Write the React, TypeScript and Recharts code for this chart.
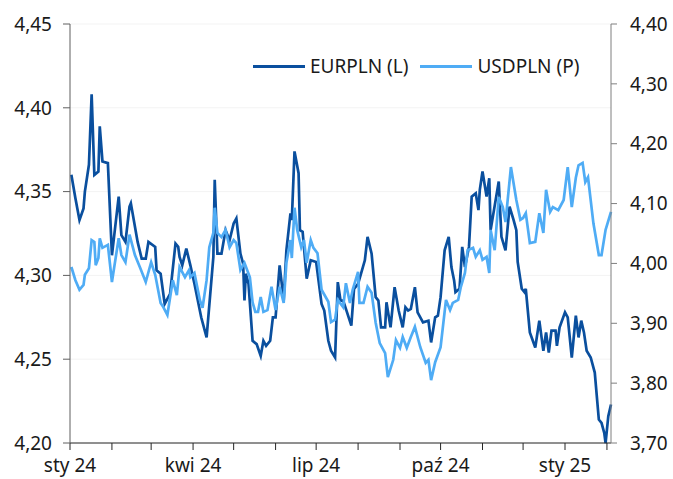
import React from 'react';
import { LineChart, Line, XAxis, YAxis, CartesianGrid } from 'recharts';

// days counted from 1 Jan 2024
const monthStarts = [0, 31, 60, 91, 121, 152, 182, 213, 244, 274, 305, 335, 366, 397];
const monthLabels = ['sty 24', '', '', 'kwi 24', '', '', 'lip 24', '', '', 'paź 24', '', '', 'sty 25', ''];

const leftTicks = [4.2, 4.25, 4.3, 4.35, 4.4, 4.45];
const rightTicks = [3.7, 3.8, 3.9, 4.0, 4.1, 4.2, 4.3, 4.4];

const eurDays = [
  1, 4, 7, 10, 11, 14, 16, 18, 21, 22, 24, 28, 31, 36, 38, 41, 44, 45, 50, 53, 56, 58, 63, 64, 67, 70,
  74, 78, 80, 81, 83, 86, 89, 92, 97, 100, 101, 106, 107, 109, 112, 115, 118, 121, 123, 126, 128, 129,
  130, 132, 135, 138, 141, 143, 145, 148, 150, 152, 155, 158, 160, 163, 164, 166, 169, 170, 172, 175,
  178, 182, 186, 188, 191, 193, 196, 198, 200, 202, 204, 208, 210, 213, 218, 220, 223, 226, 228, 230,
  233, 234, 237, 240, 243, 246, 248, 250, 252, 255, 257, 261, 265, 267, 270, 272, 274, 277, 280, 282,
  284, 285, 288, 290, 292, 295, 297, 300, 302, 303, 305, 308, 310, 311, 317, 319, 322, 325, 328, 330,
  331, 334, 336, 337, 340, 344, 347, 350, 352, 354, 356, 359, 360, 362, 366, 368, 371, 374, 376, 378,
  380, 382, 385, 388, 391, 393, 395, 396, 398, 400,
];
const eurValues = [
  4.360, 4.346, 4.333, 4.340, 4.350, 4.366, 4.408, 4.360, 4.362, 4.389, 4.368, 4.367, 4.312, 4.347,
  4.324, 4.320, 4.341, 4.343, 4.320, 4.310, 4.310, 4.320, 4.317, 4.303, 4.301, 4.283, 4.289, 4.319,
  4.317, 4.311, 4.306, 4.316, 4.306, 4.295, 4.275, 4.266, 4.263, 4.311, 4.357, 4.313, 4.313, 4.327,
  4.321, 4.331, 4.334, 4.313, 4.307, 4.285, 4.301, 4.295, 4.261, 4.259, 4.252, 4.261, 4.258, 4.261,
  4.275, 4.275, 4.306, 4.285, 4.315, 4.337, 4.333, 4.374, 4.361, 4.327, 4.326, 4.298, 4.309, 4.308,
  4.283, 4.279, 4.261, 4.255, 4.251, 4.296, 4.285, 4.285, 4.280, 4.270, 4.292, 4.295, 4.309, 4.323,
  4.313, 4.287, 4.285, 4.269, 4.269, 4.284, 4.269, 4.293, 4.279, 4.269, 4.281, 4.279, 4.280, 4.293,
  4.278, 4.272, 4.273, 4.260, 4.275, 4.276, 4.287, 4.315, 4.323, 4.305, 4.297, 4.290, 4.292, 4.317,
  4.305, 4.317, 4.347, 4.349, 4.339, 4.351, 4.362, 4.347, 4.358, 4.327, 4.356, 4.323, 4.315, 4.341,
  4.333, 4.327, 4.308, 4.292, 4.290, 4.292, 4.266, 4.257, 4.273, 4.255, 4.266, 4.254, 4.267, 4.267,
  4.258, 4.269, 4.278, 4.275, 4.251, 4.276, 4.263, 4.273, 4.266, 4.255, 4.251, 4.242, 4.214, 4.212,
  4.206, 4.200, 4.216, 4.223,
];

const usdDays = [
  1, 4, 7, 10, 11, 14, 16, 18, 19, 21, 22, 24, 28, 31, 36, 38, 41, 44, 48, 52, 56, 60, 63, 67, 69, 72,
  76, 79, 81, 85, 88, 89, 92, 96, 98, 101, 103, 106, 107, 109, 112, 115, 118, 121, 123, 126, 129, 133,
  135, 137, 139, 141, 143, 146, 149, 152, 155, 158, 160, 163, 164, 166, 168, 171, 173, 175, 178, 180,
  183, 186, 191, 193, 196, 198, 202, 204, 207, 209, 213, 214, 217, 220, 223, 226, 229, 233, 235, 239,
  241, 244, 246, 249, 252, 255, 259, 263, 265, 267, 270, 274, 278, 281, 283, 287, 289, 292, 294, 298,
  300, 303, 305, 308, 310, 311, 314, 317, 320, 322, 326, 330, 333, 335, 337, 340, 344, 347, 350, 352,
  355, 357, 361, 365, 368, 371, 374, 376, 379, 381, 383, 387, 391, 393, 396, 400,
];
const usdValues = [
  3.994, 3.972, 3.956, 3.964, 3.981, 3.992, 4.039, 4.036, 3.997, 4.009, 4.042, 4.026, 4.031, 3.969,
  4.042, 4.014, 4.002, 4.048, 4.014, 3.992, 3.969, 4.002, 3.981, 3.934, 3.927, 3.914, 3.972, 3.947,
  3.994, 3.977, 3.989, 3.977, 3.984, 3.939, 3.926, 3.972, 4.027, 4.051, 4.093, 4.051, 4.044, 4.056,
  4.027, 4.039, 4.034, 3.989, 4.001, 3.977, 3.935, 3.919, 3.919, 3.944, 3.919, 3.922, 3.961, 3.922,
  3.961, 3.934, 4.001, 4.039, 4.009, 4.093, 4.056, 4.027, 4.039, 4.001, 4.039, 4.026, 4.017, 3.956,
  3.936, 3.902, 3.906, 3.939, 3.927, 3.967, 3.934, 3.956, 3.986, 3.934, 3.934, 3.961, 3.951, 3.901,
  3.867, 3.850, 3.810, 3.839, 3.872, 3.859, 3.877, 3.859, 3.877, 3.894, 3.860, 3.834, 3.839, 3.805,
  3.835, 3.860, 3.939, 3.922, 3.934, 3.939, 3.961, 3.984, 4.022, 4.026, 4.011, 4.022, 4.006, 4.011,
  3.984, 4.056, 4.022, 4.111, 4.094, 4.069, 4.161, 4.106, 4.073, 4.076, 4.084, 4.034, 4.036, 4.084,
  4.051, 4.123, 4.086, 4.094, 4.089, 4.106, 4.161, 4.094, 4.143, 4.164, 4.168, 4.136, 4.144, 4.067,
  4.014, 4.014, 4.056, 4.086,
];

const EUR_COLOR = '#0a4f9e';
const USD_COLOR = '#4facf5';
const FONT = "'Noto Sans', sans-serif";

const eurData = eurDays.map((day, i) => ({ day, v: eurValues[i] }));
const usdData = usdDays.map((day, i) => ({ day, v: usdValues[i] }));

const fmt = (v: number) => v.toFixed(2).replace('.', ',');
const monthFmt = (d: number) => monthLabels[monthStarts.indexOf(d)] ?? '';

const LegendItem = ({ color, label }: { color: string; label: string }) => (
  <div style={{ display: 'flex', alignItems: 'center', marginRight: 12 }}>
    <div style={{ width: 52, height: 3, background: color, marginRight: 5 }} />
    <span>{label}</span>
  </div>
);

export default function App() {
  return (
    <div style={{ position: 'absolute', left: 0, top: 0, width: 673, height: 479, fontFamily: FONT }}>
      <LineChart
        width={673}
        height={479}
        margin={{ top: 24, right: 0, bottom: 0, left: 0 }}
        style={{ fontFamily: FONT }}
      >
        <CartesianGrid yAxisId="left" vertical={false} stroke="#f3f3f3" />
        <XAxis
          type="number"
          dataKey="day"
          domain={[0, 400]}
          ticks={monthStarts}
          tickFormatter={monthFmt}
          interval={0}
          height={36}
          tickSize={7}
          tickMargin={9}
          stroke="#262626"
          tick={{ fill: '#1a1a1a', fontSize: 19 }}
        />
        <YAxis
          yAxisId="left"
          domain={[4.2, 4.45]}
          ticks={leftTicks}
          tickFormatter={fmt}
          width={70}
          tickSize={7}
          tickMargin={11}
          stroke="#5f5f5f"
          tick={{ fill: '#1a1a1a', fontSize: 19 }}
        />
        <YAxis
          yAxisId="right"
          orientation="right"
          domain={[3.7, 4.4]}
          ticks={rightTicks}
          tickFormatter={fmt}
          width={62}
          tickSize={6}
          tickMargin={13}
          stroke="#7f7f7f"
          tick={{ fill: '#1a1a1a', fontSize: 19 }}
        />
        <Line
          yAxisId="left"
          data={eurData}
          dataKey="v"
          type="linear"
          stroke={EUR_COLOR}
          strokeWidth={2.7}
          dot={false}
          isAnimationActive={false}
        />
        <Line
          yAxisId="right"
          data={usdData}
          dataKey="v"
          type="linear"
          stroke={USD_COLOR}
          strokeWidth={2.7}
          dot={false}
          isAnimationActive={false}
        />
      </LineChart>
      <div
        style={{
          position: 'absolute',
          left: 253,
          top: 54,
          height: 24,
          display: 'flex',
          alignItems: 'center',
          fontSize: 19,
          color: '#1a1a1a',
        }}
      >
        <LegendItem color={EUR_COLOR} label="EURPLN (L)" />
        <LegendItem color={USD_COLOR} label="USDPLN (P)" />
      </div>
    </div>
  );
}
